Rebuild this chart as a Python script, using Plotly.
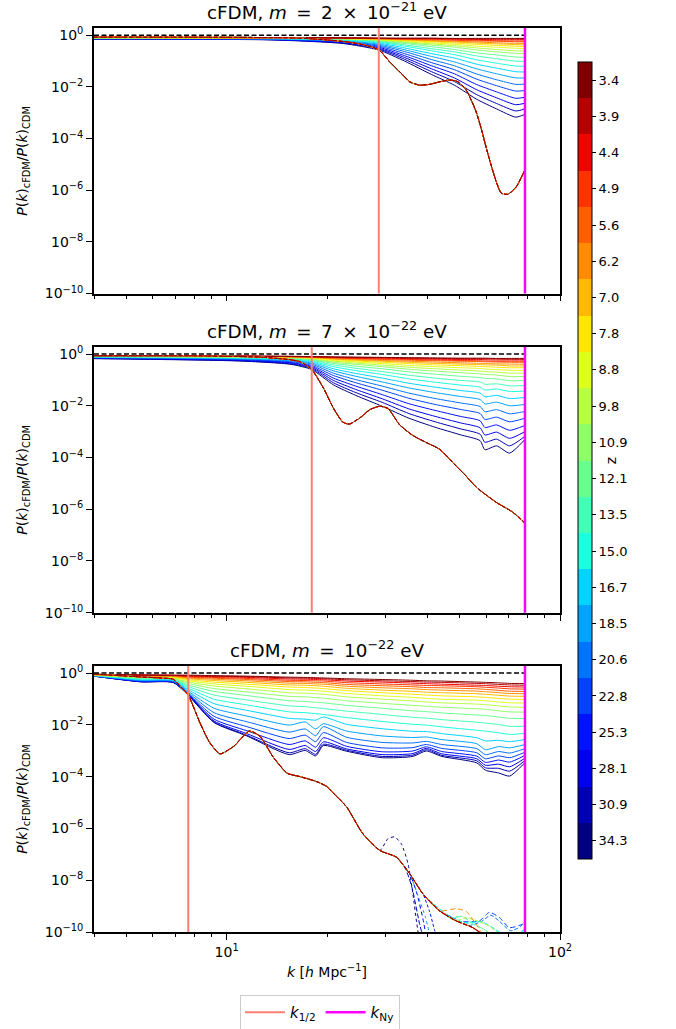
import numpy as np
import plotly.graph_objects as go
from plotly.colors import sample_colorscale

# ---------------------------------------------------------------------------
# Redshift levels of the snapshots (colour bar ticks, top to bottom)
# ---------------------------------------------------------------------------
z_levels = [3.4, 3.9, 4.4, 4.9, 5.6, 6.2, 7.0, 7.8, 8.8, 9.8, 10.9, 12.1,
            13.5, 15.0, 16.7, 18.5, 20.6, 22.8, 25.3, 28.1, 30.9, 34.3]

k_nyquist = 78.5
k_half = [28.6, 18.0, 7.67]

# ---------------------------------------------------------------------------
# m = 2e-21 eV : simulated log10[P_cFDM/P_CDM]; one column per k, one entry per z
# ---------------------------------------------------------------------------
k_sim_m2e21 = [4.0, 13.7, 22.4, 28.6, 34.2, 41.2, 48.2, 56.3, 64.5, 73.7, 78.5]
sim_m2e21_k4p0 = [-0.08, -0.08, -0.08, -0.08, -0.08, -0.08, -0.09, -0.09, -0.09, -0.09, -0.09, -0.10, -0.10, -0.10, -0.11, -0.11, -0.12, -0.13, -0.13, -0.14, -0.14, -0.15]
sim_m2e21_k13p7 = [-0.09, -0.09, -0.09, -0.09, -0.09, -0.10, -0.10, -0.10, -0.10, -0.10, -0.11, -0.11, -0.12, -0.12, -0.13, -0.14, -0.14, -0.15, -0.16, -0.17, -0.17, -0.18]
sim_m2e21_k22p4 = [-0.10, -0.10, -0.10, -0.11, -0.11, -0.11, -0.12, -0.12, -0.13, -0.13, -0.14, -0.15, -0.16, -0.18, -0.19, -0.21, -0.23, -0.25, -0.27, -0.29, -0.30, -0.32]
sim_m2e21_k28p6 = [-0.11, -0.11, -0.12, -0.12, -0.13, -0.14, -0.15, -0.16, -0.17, -0.18, -0.20, -0.22, -0.24, -0.27, -0.30, -0.34, -0.38, -0.42, -0.46, -0.50, -0.53, -0.57]
sim_m2e21_k34p2 = [-0.11, -0.12, -0.13, -0.14, -0.15, -0.16, -0.18, -0.20, -0.22, -0.25, -0.28, -0.32, -0.37, -0.42, -0.49, -0.56, -0.63, -0.71, -0.79, -0.86, -0.93, -1.00]
sim_m2e21_k41p2 = [-0.11, -0.12, -0.13, -0.15, -0.17, -0.20, -0.22, -0.25, -0.29, -0.33, -0.38, -0.44, -0.52, -0.60, -0.71, -0.82, -0.94, -1.06, -1.18, -1.30, -1.41, -1.52]
sim_m2e21_k48p2 = [-0.12, -0.13, -0.15, -0.18, -0.19, -0.23, -0.26, -0.30, -0.35, -0.40, -0.46, -0.55, -0.64, -0.75, -0.88, -1.03, -1.18, -1.33, -1.49, -1.65, -1.79, -1.93]
sim_m2e21_k56p3 = [-0.12, -0.14, -0.16, -0.19, -0.22, -0.26, -0.30, -0.35, -0.42, -0.49, -0.57, -0.68, -0.80, -0.95, -1.12, -1.30, -1.50, -1.70, -1.91, -2.11, -2.30, -2.48]
sim_m2e21_k64p5 = [-0.12, -0.14, -0.17, -0.21, -0.23, -0.29, -0.33, -0.39, -0.46, -0.55, -0.64, -0.76, -0.91, -1.08, -1.27, -1.49, -1.72, -1.95, -2.19, -2.42, -2.64, -2.85]
sim_m2e21_k73p7 = [-0.12, -0.14, -0.17, -0.22, -0.25, -0.31, -0.36, -0.42, -0.50, -0.60, -0.70, -0.84, -1.00, -1.19, -1.41, -1.65, -1.90, -2.16, -2.44, -2.69, -2.93, -3.17]
sim_m2e21_k78p5 = [-0.12, -0.14, -0.17, -0.22, -0.25, -0.31, -0.37, -0.43, -0.51, -0.61, -0.71, -0.85, -1.01, -1.20, -1.42, -1.65, -1.89, -2.14, -2.40, -2.63, -2.85, -3.06]

# linear-theory ratio (same at every z)
k_lin_m2e21 = [4.0, 10.9, 16.6, 20.4, 23.4, 25.6, 28.6, 30.8, 33.8, 35.4, 37.9, 40.6, 43.6,
               46.7, 49.4, 52.3, 55.8, 58.0, 60.2, 62.7, 64.5, 66.6, 69.7, 73.8, 78.5]
lin_m2e21 = [-0.07, -0.08, -0.11, -0.19, -0.27, -0.36, -0.56, -1.02, -1.54, -1.80, -1.93, -1.90, -1.80,
             -1.73, -1.80, -2.12, -2.90, -3.60, -4.40, -5.20, -5.70, -6.11, -6.16, -5.88, -5.21]

# ---------------------------------------------------------------------------
# m = 7e-22 eV
# ---------------------------------------------------------------------------
k_sim_m7e22 = [4.0, 10.9, 15.6, 18.0, 20.9, 24.4, 29.3, 35.2, 42.2, 50.2, 57.6, 59.5, 64.5, 70.6, 78.5]
sim_m7e22_k4p0 = [-0.07, -0.07, -0.07, -0.07, -0.07, -0.08, -0.08, -0.08, -0.08, -0.09, -0.09, -0.10, -0.10, -0.11, -0.12, -0.13, -0.13, -0.14, -0.15, -0.16, -0.17, -0.18]
sim_m7e22_k10p9 = [-0.08, -0.08, -0.08, -0.09, -0.09, -0.09, -0.10, -0.10, -0.10, -0.11, -0.12, -0.13, -0.14, -0.15, -0.16, -0.18, -0.19, -0.21, -0.22, -0.24, -0.26, -0.27]
sim_m7e22_k15p6 = [-0.09, -0.09, -0.10, -0.10, -0.10, -0.11, -0.11, -0.12, -0.13, -0.14, -0.15, -0.16, -0.18, -0.20, -0.22, -0.25, -0.27, -0.30, -0.33, -0.35, -0.38, -0.40]
sim_m7e22_k18p0 = [-0.10, -0.10, -0.11, -0.12, -0.12, -0.13, -0.14, -0.15, -0.16, -0.18, -0.20, -0.22, -0.25, -0.28, -0.31, -0.35, -0.39, -0.44, -0.48, -0.52, -0.56, -0.60]
sim_m7e22_k20p9 = [-0.11, -0.12, -0.13, -0.14, -0.15, -0.18, -0.19, -0.22, -0.25, -0.28, -0.32, -0.36, -0.42, -0.49, -0.57, -0.65, -0.74, -0.83, -0.93, -1.02, -1.11, -1.19]
sim_m7e22_k24p4 = [-0.12, -0.13, -0.15, -0.17, -0.18, -0.21, -0.24, -0.27, -0.31, -0.35, -0.40, -0.47, -0.55, -0.64, -0.75, -0.86, -0.99, -1.11, -1.24, -1.37, -1.49, -1.60]
sim_m7e22_k29p3 = [-0.13, -0.14, -0.16, -0.19, -0.21, -0.25, -0.28, -0.32, -0.37, -0.43, -0.49, -0.57, -0.68, -0.79, -0.93, -1.08, -1.24, -1.40, -1.57, -1.73, -1.87, -2.02]
sim_m7e22_k35p2 = [-0.14, -0.16, -0.18, -0.21, -0.24, -0.28, -0.32, -0.37, -0.44, -0.51, -0.59, -0.69, -0.82, -0.96, -1.13, -1.31, -1.51, -1.71, -1.92, -2.12, -2.30, -2.48]
sim_m7e22_k42p2 = [-0.15, -0.17, -0.20, -0.23, -0.26, -0.31, -0.36, -0.42, -0.49, -0.57, -0.66, -0.78, -0.93, -1.09, -1.28, -1.49, -1.72, -1.95, -2.18, -2.41, -2.62, -2.83]
sim_m7e22_k50p2 = [-0.16, -0.18, -0.21, -0.25, -0.28, -0.34, -0.39, -0.45, -0.53, -0.62, -0.72, -0.86, -1.02, -1.20, -1.41, -1.64, -1.89, -2.14, -2.41, -2.66, -2.89, -3.12]
sim_m7e22_k57p6 = [-0.16, -0.18, -0.21, -0.26, -0.29, -0.36, -0.41, -0.48, -0.56, -0.66, -0.77, -0.91, -1.08, -1.28, -1.51, -1.76, -2.03, -2.30, -2.58, -2.85, -3.10, -3.35]
sim_m7e22_k59p5 = [-0.16, -0.18, -0.22, -0.27, -0.30, -0.37, -0.42, -0.49, -0.58, -0.68, -0.79, -0.94, -1.17, -1.39, -1.65, -1.93, -2.23, -2.53, -2.84, -3.13, -3.41, -3.70]
sim_m7e22_k64p5 = [-0.17, -0.19, -0.23, -0.28, -0.31, -0.38, -0.43, -0.51, -0.60, -0.70, -0.81, -0.96, -1.15, -1.35, -1.60, -1.86, -2.15, -2.44, -2.74, -3.02, -3.29, -3.55]
sim_m7e22_k70p6 = [-0.17, -0.20, -0.23, -0.28, -0.32, -0.39, -0.46, -0.53, -0.63, -0.74, -0.87, -1.03, -1.23, -1.45, -1.72, -2.00, -2.31, -2.62, -2.95, -3.26, -3.55, -3.83]
sim_m7e22_k78p5 = [-0.17, -0.20, -0.23, -0.28, -0.32, -0.39, -0.46, -0.53, -0.63, -0.74, -0.87, -1.03, -1.22, -1.43, -1.68, -1.95, -2.22, -2.48, -2.76, -3.00, -3.18, -3.30]

k_lin_m7e22 = [4.0, 8.0, 12.6, 15.5, 16.6, 18.0, 19.5, 20.9, 22.3, 23.3, 25.1, 26.9, 28.8, 30.5,
               33.0, 36.2, 39.7, 43.5, 48.8, 52.3, 56.0, 64.3, 72.1, 78.5]
lin_m7e22 = [-0.06, -0.07, -0.12, -0.22, -0.30, -0.60, -1.31, -2.09, -2.63, -2.71, -2.47, -2.15, -2.02, -2.11,
             -2.73, -3.15, -3.42, -3.68, -4.33, -4.72, -5.14, -5.73, -6.11, -6.54]

# ---------------------------------------------------------------------------
# m = 1e-22 eV
# ---------------------------------------------------------------------------
k_sim_m1e22 = [4.0, 5.54, 6.92, 7.67, 9.16, 11.5, 15.4, 17.2, 18.5, 19.5, 22.9, 29.3, 36.2, 39.7,
               44.2, 56.3, 59.7, 65.5, 70.6, 78.5]
sim_m1e22_k4p0 = [-0.05, -0.05, -0.05, -0.06, -0.06, -0.06, -0.06, -0.07, -0.07, -0.08, -0.08, -0.08, -0.09, -0.09, -0.10, -0.10, -0.11, -0.11, -0.11, -0.12, -0.12, -0.12]
sim_m1e22_k5p54 = [-0.07, -0.08, -0.08, -0.09, -0.10, -0.11, -0.12, -0.14, -0.15, -0.17, -0.18, -0.20, -0.22, -0.24, -0.26, -0.28, -0.29, -0.31, -0.32, -0.33, -0.34, -0.34]
sim_m1e22_k6p92 = [-0.08, -0.09, -0.09, -0.10, -0.11, -0.12, -0.14, -0.15, -0.17, -0.18, -0.20, -0.22, -0.24, -0.26, -0.28, -0.30, -0.32, -0.33, -0.35, -0.36, -0.36, -0.37]
sim_m1e22_k7p67 = [-0.08, -0.10, -0.12, -0.14, -0.16, -0.19, -0.22, -0.26, -0.30, -0.35, -0.40, -0.46, -0.52, -0.58, -0.64, -0.70, -0.75, -0.79, -0.82, -0.84, -0.85, -0.86]
sim_m1e22_k9p16 = [-0.10, -0.12, -0.14, -0.17, -0.20, -0.24, -0.29, -0.35, -0.42, -0.50, -0.60, -0.71, -0.85, -1.01, -1.18, -1.36, -1.53, -1.67, -1.78, -1.85, -1.89, -1.91]
sim_m1e22_k11p5 = [-0.12, -0.14, -0.17, -0.21, -0.25, -0.30, -0.36, -0.43, -0.51, -0.61, -0.73, -0.87, -1.04, -1.23, -1.44, -1.66, -1.88, -2.07, -2.23, -2.34, -2.40, -2.43]
sim_m1e22_k15p4 = [-0.16, -0.19, -0.23, -0.28, -0.33, -0.39, -0.46, -0.54, -0.64, -0.76, -0.90, -1.07, -1.27, -1.50, -1.75, -2.01, -2.28, -2.53, -2.76, -2.95, -3.08, -3.15]
sim_m1e22_k17p2 = [-0.17, -0.20, -0.24, -0.29, -0.34, -0.40, -0.47, -0.56, -0.66, -0.78, -0.92, -1.10, -1.30, -1.53, -1.78, -1.89, -2.16, -2.40, -2.62, -2.80, -2.92, -2.99]
sim_m1e22_k18p5 = [-0.18, -0.21, -0.25, -0.30, -0.36, -0.42, -0.49, -0.58, -0.68, -0.80, -0.95, -1.13, -1.34, -1.57, -1.82, -2.16, -2.42, -2.65, -2.86, -3.03, -3.14, -3.20]
sim_m1e22_k19p5 = [-0.19, -0.22, -0.26, -0.31, -0.37, -0.43, -0.51, -0.60, -0.70, -0.82, -0.97, -1.15, -1.37, -1.60, -1.70, -1.96, -2.07, -2.30, -2.50, -2.66, -2.75, -2.80]
sim_m1e22_k22p9 = [-0.22, -0.26, -0.31, -0.37, -0.44, -0.51, -0.59, -0.68, -0.79, -0.92, -1.07, -1.25, -1.47, -1.72, -1.98, -2.24, -2.48, -2.68, -2.83, -2.93, -2.98, -3.02]
sim_m1e22_k29p3 = [-0.25, -0.30, -0.35, -0.42, -0.49, -0.57, -0.66, -0.76, -0.88, -1.01, -1.17, -1.36, -1.60, -1.87, -2.15, -2.43, -2.68, -2.89, -3.04, -3.15, -3.22, -3.27]
sim_m1e22_k36p2 = [-0.28, -0.33, -0.39, -0.46, -0.53, -0.61, -0.71, -0.82, -0.94, -1.08, -1.25, -1.46, -1.71, -1.98, -2.25, -2.49, -2.70, -2.88, -3.01, -3.11, -3.17, -3.22]
sim_m1e22_k39p7 = [-0.30, -0.35, -0.41, -0.48, -0.56, -0.64, -0.74, -0.85, -0.98, -1.12, -1.28, -1.49, -1.74, -2.01, -2.26, -2.47, -2.64, -2.76, -2.85, -2.91, -2.96, -3.01]
sim_m1e22_k44p2 = [-0.31, -0.36, -0.43, -0.49, -0.57, -0.66, -0.76, -0.88, -1.01, -1.15, -1.32, -1.54, -1.80, -2.08, -2.34, -2.57, -2.76, -2.91, -3.03, -3.12, -3.18, -3.22]
sim_m1e22_k56p3 = [-0.35, -0.40, -0.47, -0.53, -0.61, -0.70, -0.80, -0.92, -1.05, -1.20, -1.38, -1.62, -1.90, -2.21, -2.50, -2.73, -2.92, -3.08, -3.21, -3.31, -3.39, -3.47]
sim_m1e22_k59p7 = [-0.36, -0.41, -0.48, -0.55, -0.63, -0.72, -0.82, -0.94, -1.07, -1.22, -1.40, -1.64, -1.93, -2.24, -2.62, -2.96, -3.15, -3.31, -3.45, -3.56, -3.66, -3.75]
sim_m1e22_k65p5 = [-0.38, -0.44, -0.51, -0.58, -0.67, -0.76, -0.86, -0.98, -1.12, -1.27, -1.46, -1.70, -1.99, -2.31, -2.60, -2.84, -3.03, -3.20, -3.36, -3.52, -3.68, -3.86]
sim_m1e22_k70p6 = [-0.40, -0.46, -0.53, -0.61, -0.70, -0.79, -0.89, -1.01, -1.15, -1.31, -1.50, -1.75, -2.06, -2.37, -2.65, -2.89, -3.09, -3.27, -3.44, -3.62, -3.79, -3.98]
sim_m1e22_k78p5 = [-0.41, -0.47, -0.54, -0.62, -0.71, -0.80, -0.90, -1.02, -1.16, -1.32, -1.51, -1.76, -2.05, -2.33, -2.57, -2.76, -2.92, -3.06, -3.18, -3.29, -3.38, -3.46]

# linear theory: common part, then z-dependent behaviour at very low amplitude
k_lin_m1e22 = [4.0, 5.5, 6.5, 6.91, 7.33, 7.67, 8.32, 8.91, 9.55, 10.5, 11.7, 12.6, 13.8, 15.2,
               16.6, 18.6, 19.9, 20.9, 22.9, 25.6, 28.8]
lin_m1e22 = [-0.04, -0.15, -0.20, -0.24, -0.57, -0.85, -1.93, -2.70, -3.12, -2.83, -2.24, -2.45, -3.25, -3.87,
             -4.00, -4.19, -4.37, -4.64, -5.17, -6.20, -6.85]

tail_k_low = [32.3, 35.4, 38.8, 43.5, 48.8, 54.7, 60.0, 66.0]
tail_low = [-7.11, -7.75, -8.53, -9.18, -9.57, -9.83, -10.2, -10.8]
tail_k_orange = [32.3, 35.4, 38.8, 43.5, 48.8, 52.3, 56.0, 60.0]
tail_orange = [-7.11, -7.75, -8.53, -9.18, -9.10, -9.20, -9.70, -10.3]
tail_k_mid_a = [32.3, 35.4, 38.8, 43.5, 48.8, 52.0, 56.0, 61.0, 66.0, 72.0]
tail_mid_a = [-7.11, -7.75, -8.53, -9.18, -9.57, -9.45, -9.55, -9.75, -10.1, -10.6]
tail_k_mid_b = [32.3, 35.4, 38.8, 43.5, 47.0, 51.0, 55.0, 60.0, 65.0]
tail_mid_b = [-7.11, -7.75, -8.53, -9.18, -9.45, -9.40, -9.70, -9.95, -10.4]
tail_k_mid_c = [32.3, 35.4, 38.8, 42.0, 46.0, 52.0, 58.0, 63.0, 70.0, 78.5]
tail_mid_c = [-7.11, -7.75, -8.53, -8.95, -9.35, -9.65, -9.60, -9.85, -10.2, -9.90]
tail_k_z185 = [32.3, 35.4, 37.5, 39.4, 41.0]
tail_z185 = [-7.11, -7.75, -8.60, -9.40, -10.3]
tail_k_z206 = [32.3, 35.4, 38.8, 43.5, 48.8, 53.0, 58.0, 62.0, 66.0, 71.0, 76.0, 78.5]
tail_z206 = [-7.11, -7.75, -8.53, -9.18, -9.50, -9.75, -9.60, -9.35, -9.60, -9.95, -9.80, -9.60]
tail_k_z228 = [32.3, 35.4, 38.8, 43.5, 48.8, 57.3, 61.4, 65.8, 70.5, 77.3, 78.5]
tail_z228 = [-7.11, -7.75, -8.53, -9.18, -9.57, -9.57, -9.24, -9.44, -9.83, -9.69, -9.55]
tail_k_z253 = [32.3, 35.4, 38.8, 40.6, 42.0, 43.5]
tail_z253 = [-7.11, -7.75, -8.53, -9.20, -9.90, -10.5]
tail_k_z281 = [32.3, 35.4, 37.2, 38.8, 40.0]
tail_z281 = [-7.11, -7.75, -8.50, -9.50, -10.4]
tail_k_z309 = [32.3, 34.5, 36.0, 37.9, 39.4]
tail_z309 = [-7.11, -7.60, -8.30, -9.68, -10.5]
tail_k_z343 = [30.5, 31.9, 33.4, 35.0, 36.2, 37.2, 38.2]
tail_z343 = [-6.39, -6.33, -6.59, -7.36, -8.53, -9.69, -10.6]

# which tail each redshift follows (index into z_levels)
tails_m1e22 = [
    (tail_k_low, tail_low), (tail_k_low, tail_low), (tail_k_low, tail_low),
    (tail_k_low, tail_low), (tail_k_low, tail_low), (tail_k_orange, tail_orange),
    (tail_k_low, tail_low), (tail_k_low, tail_low), (tail_k_low, tail_low),
    (tail_k_mid_a, tail_mid_a), (tail_k_mid_a, tail_mid_a),
    (tail_k_mid_b, tail_mid_b), (tail_k_mid_b, tail_mid_b),
    (tail_k_mid_c, tail_mid_c), (tail_k_mid_c, tail_mid_c),
    (tail_k_z185, tail_z185), (tail_k_z206, tail_z206), (tail_k_z228, tail_z228),
    (tail_k_z253, tail_z253), (tail_k_z281, tail_z281), (tail_k_z309, tail_z309),
    (tail_k_z343, tail_z343),
]

sim_cols = [
    [sim_m2e21_k4p0, sim_m2e21_k13p7, sim_m2e21_k22p4, sim_m2e21_k28p6, sim_m2e21_k34p2,
     sim_m2e21_k41p2, sim_m2e21_k48p2, sim_m2e21_k56p3, sim_m2e21_k64p5, sim_m2e21_k73p7,
     sim_m2e21_k78p5],
    [sim_m7e22_k4p0, sim_m7e22_k10p9, sim_m7e22_k15p6, sim_m7e22_k18p0, sim_m7e22_k20p9,
     sim_m7e22_k24p4, sim_m7e22_k29p3, sim_m7e22_k35p2, sim_m7e22_k42p2, sim_m7e22_k50p2,
     sim_m7e22_k57p6, sim_m7e22_k59p5, sim_m7e22_k64p5, sim_m7e22_k70p6, sim_m7e22_k78p5],
    [sim_m1e22_k4p0, sim_m1e22_k5p54, sim_m1e22_k6p92, sim_m1e22_k7p67, sim_m1e22_k9p16,
     sim_m1e22_k11p5, sim_m1e22_k15p4, sim_m1e22_k17p2, sim_m1e22_k18p5, sim_m1e22_k19p5,
     sim_m1e22_k22p9, sim_m1e22_k29p3, sim_m1e22_k36p2, sim_m1e22_k39p7, sim_m1e22_k44p2,
     sim_m1e22_k56p3, sim_m1e22_k59p7, sim_m1e22_k65p5, sim_m1e22_k70p6, sim_m1e22_k78p5],
]
sim_k = [k_sim_m2e21, k_sim_m7e22, k_sim_m1e22]

titles = [
    "cFDM, <i>m</i> &#8201;=&#8201; 2 &#8201;×&#8201; 10<sup>−21</sup> eV",
    "cFDM, <i>m</i> &#8201;=&#8201; 7 &#8201;×&#8201; 10<sup>−22</sup> eV",
    "cFDM, <i>m</i> &#8201;=&#8201; 10<sup>−22</sup> eV",
]

# ---------------------------------------------------------------------------
# Colours: matplotlib-style jet, one band per redshift
# ---------------------------------------------------------------------------
jet = [[0.0, 'rgb(0,0,128)'], [0.11, 'rgb(0,0,255)'], [0.125, 'rgb(0,0,255)'],
       [0.34, 'rgb(0,219,255)'], [0.35, 'rgb(0,230,247)'], [0.375, 'rgb(21,255,226)'],
       [0.64, 'rgb(239,255,8)'], [0.65, 'rgb(247,245,0)'], [0.66, 'rgb(255,236,0)'],
       [0.89, 'rgb(255,19,0)'], [0.91, 'rgb(232,0,0)'], [1.0, 'rgb(128,0,0)']]
nz = len(z_levels)
line_colors = [sample_colorscale(jet, [1 - i / (nz - 1)])[0] for i in range(nz)]
band_colors = [sample_colorscale(jet, [j / (nz - 1)])[0] for j in range(nz)]
discrete_scale = []
for j, c in enumerate(band_colors):
    discrete_scale.append([j / nz, c])
    discrete_scale.append([(j + 1) / nz, c])

FONT = "DejaVu Sans"
W, H = 676, 1029
ML, MR, MT, MB = 94, 116, 28, 97
PH = H - MT - MB
PW = W - ML - MR
domains = [[(932 - 293.5) / PH, 1.0], [(932 - 612.7) / PH, (932 - 346.7) / PH], [0.0, (932 - 665.7) / PH]]

fig = go.Figure()


def to_ratio(vals):
    return [10 ** v for v in vals]


for p in range(3):
    xa = 'x' if p == 0 else f'x{p + 1}'
    ya = 'y' if p == 0 else f'y{p + 1}'
    cols = sim_cols[p]
    # simulation ratios: high z first so that the low-z curves lie on top
    for i in reversed(range(nz)):
        yv = to_ratio([c[i] for c in cols])
        fig.add_trace(go.Scatter(x=sim_k[p], y=yv, mode='lines', xaxis=xa, yaxis=ya,
                                 line=dict(color=line_colors[i], width=1, shape='spline', smoothing=0.6),
                                 showlegend=False, hoverinfo='skip'))
    # linear-theory ratios
    for i in reversed(range(nz)):
        if p == 0:
            kx, yv = k_lin_m2e21, lin_m2e21
        elif p == 1:
            kx, yv = k_lin_m7e22, lin_m7e22
        else:
            tk, tv = tails_m1e22[i]
            kx = k_lin_m1e22 + tk
            yv = lin_m1e22 + tv
        dash = f"{3 + (i % 3)}px,{2 + (i % 2)}px"
        fig.add_trace(go.Scatter(x=kx, y=to_ratio(yv), mode='lines', xaxis=xa, yaxis=ya,
                                 line=dict(color=line_colors[i], width=1, dash=dash,
                                           shape='spline', smoothing=0.6),
                                 showlegend=False, hoverinfo='skip'))
    # P_cFDM = P_CDM reference
    fig.add_trace(go.Scatter(x=[4.0, k_nyquist], y=[1.0, 1.0], mode='lines', xaxis=xa, yaxis=ya,
                             line=dict(color='black', width=1.5, dash='5px,2.5px'),
                             showlegend=False, hoverinfo='skip'))
    # half-mode and Nyquist wavenumbers
    fig.add_trace(go.Scatter(x=[k_half[p], k_half[p]], y=[1e-12, 10.0], mode='lines', xaxis=xa, yaxis=ya,
                             line=dict(color='#fa8072', width=2),
                             name='<i>k</i><sub>1/2</sub>', legendgroup='khalf', showlegend=(p == 0),
                             hoverinfo='skip'))
    fig.add_trace(go.Scatter(x=[k_nyquist, k_nyquist], y=[1e-12, 10.0], mode='lines', xaxis=xa, yaxis=ya,
                             line=dict(color='#ff00ff', width=2.5),
                             name='<i>k</i><sub>Ny</sub>', legendgroup='kny', showlegend=(p == 0),
                             hoverinfo='skip'))

# colour bar carrier (point lies outside the plotted range)
fig.add_trace(go.Scatter(
    x=[10.0], y=[1e-20], mode='markers', xaxis='x', yaxis='y', showlegend=False, hoverinfo='skip',
    marker=dict(size=1, color=[0.5], cmin=0, cmax=nz, colorscale=discrete_scale, showscale=True,
                colorbar=dict(
                    x=(578 - ML) / PW, xanchor='left', xpad=0,
                    y=(932 - 859) / PH, yanchor='bottom', ypad=0,
                    len=(859 - 61.7) / PH, lenmode='fraction',
                    thickness=14, thicknessmode='pixels',
                    outlinewidth=1, outlinecolor='black',
                    tickmode='array', tickvals=[j + 0.5 for j in range(nz)],
                    ticktext=[f"{z_levels[nz - 1 - j]:.1f}" for j in range(nz)],
                    ticks='outside', ticklen=4, tickcolor='black',
                    tickfont=dict(family=FONT, size=13, color='black'),
                    title=dict(text='z', side='right', font=dict(family=FONT, size=14, color='black')),
                ))))

ytick_vals = [1e0, 1e-2, 1e-4, 1e-6, 1e-8, 1e-10]
ytick_text = ['10<sup>0</sup>', '10<sup>−2</sup>', '10<sup>−4</sup>', '10<sup>−6</sup>',
              '10<sup>−8</sup>', '10<sup>−10</sup>']
minor_x = [4, 5, 6, 7, 8, 9, 20, 30, 40, 50, 60, 70, 80, 90]

layout = dict(
    width=W, height=H, margin=dict(l=ML, r=MR, t=MT, b=MB, pad=0, autoexpand=False),
    paper_bgcolor='white', plot_bgcolor='white',
    font=dict(family=FONT, size=14, color='black'),
    legend=dict(orientation='h', x=320 / W, xanchor='center', xref='container',
                y=(H - 995) / H, yanchor='top', yref='container',
                bordercolor='#cccccc', borderwidth=1, itemwidth=40,
                bgcolor='white', font=dict(family=FONT, size=15)),
    annotations=[],
)
for p in range(3):
    xkey = 'xaxis' if p == 0 else f'xaxis{p + 1}'
    ykey = 'yaxis' if p == 0 else f'yaxis{p + 1}'
    ya = 'y' if p == 0 else f'y{p + 1}'
    xa = 'x' if p == 0 else f'x{p + 1}'
    layout[xkey] = dict(
        type='log', range=[np.log10(4.0), 2.0], domain=[0, 1], anchor=ya,
        showline=True, linecolor='black', linewidth=1.8, mirror=True,
        showgrid=False, zeroline=False,
        tickmode='array', tickvals=[10, 100], ticktext=['10<sup>1</sup>', '10<sup>2</sup>'],
        ticks='outside', ticklen=6, tickwidth=1.2, tickcolor='black',
        showticklabels=(p == 2), tickfont=dict(family=FONT, size=14),
        minor=dict(tickmode='array', tickvals=minor_x, ticks='outside', ticklen=3.5,
                   tickwidth=1, tickcolor='black', showgrid=False),
    )
    layout[ykey] = dict(
        type='log', range=[-10, 0.283], domain=domains[p], anchor=xa,
        showline=True, linecolor='black', linewidth=1.8, mirror=True,
        showgrid=False, zeroline=False,
        tickmode='array', tickvals=ytick_vals, ticktext=ytick_text,
        ticks='outside', ticklen=6, tickwidth=1.2, tickcolor='black',
        tickfont=dict(family=FONT, size=14),
    )
    top = domains[p][1]
    bottom = domains[p][0]
    layout['annotations'].append(dict(
        text=titles[p], x=0.5, y=top + 3 / PH, xref='paper', yref='paper',
        xanchor='center', yanchor='bottom', showarrow=False, font=dict(family=FONT, size=18.3)))
    layout['annotations'].append(dict(
        text='<i>P</i>(<i>k</i>)<sub>cFDM</sub>/<i>P</i>(<i>k</i>)<sub>CDM</sub>',
        x=(23 - ML) / PW, y=(top + bottom) / 2, xref='paper', yref='paper',
        xanchor='center', yanchor='middle', textangle=-90, showarrow=False,
        font=dict(family=FONT, size=14)))

layout['annotations'].append(dict(
    text='<i>k</i> [<i>h</i> Mpc<sup>−1</sup>]', x=0.5, y=(932 - 971) / PH, xref='paper', yref='paper',
    xanchor='center', yanchor='middle', showarrow=False, font=dict(family=FONT, size=14)))

fig.update_layout(**layout)
fig.write_html("out.html")
